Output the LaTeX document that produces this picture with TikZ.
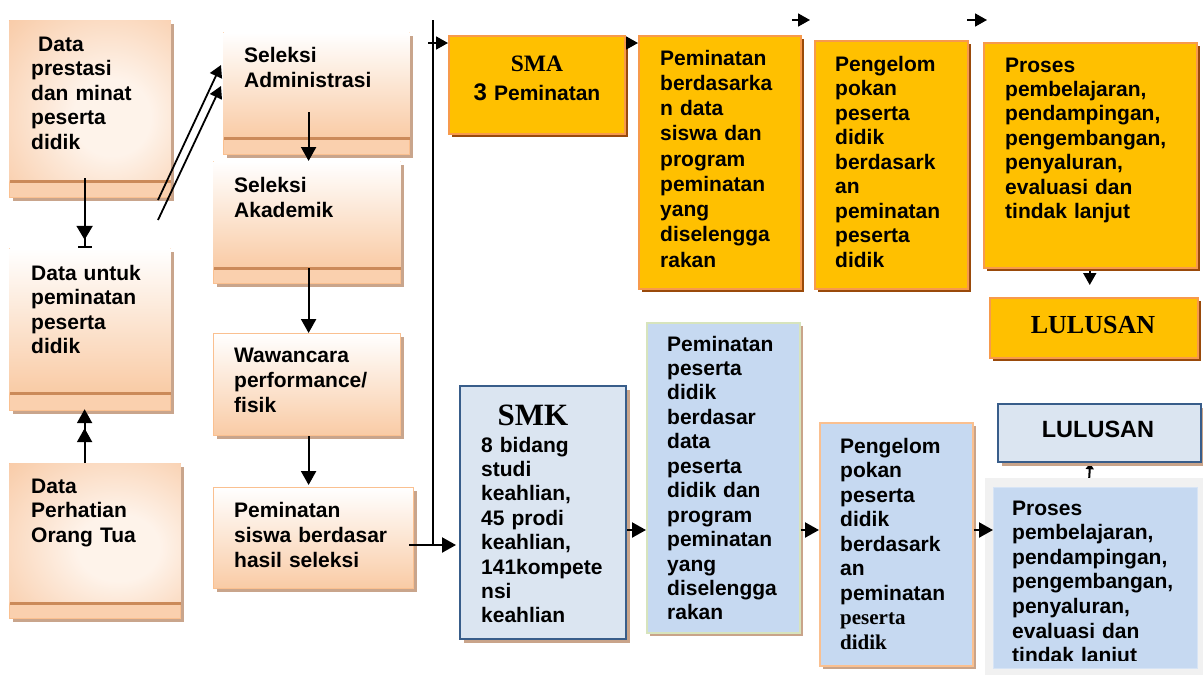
\documentclass[tikz,border=0pt]{standalone}
\usepackage{fontspec}
\setmainfont{Liberation Sans}
\newfontfamily\timesf{Liberation Serif}
\usetikzlibrary{arrows.meta,shadows,calc,backgrounds}
\definecolor{peachline}{HTML}{FAC090}
\definecolor{peachlow}{HTML}{F9CBA5}
\definecolor{peachband}{HTML}{FAD0AE}
\definecolor{peachout}{HTML}{F6B07C}
\definecolor{peachmid}{HTML}{F9CFAE}
\definecolor{peachin}{HTML}{FEF3EA}
\definecolor{bandline}{HTML}{CB8A59}
\definecolor{peachshadow}{HTML}{C9A58C}
\definecolor{gold}{HTML}{FFC000}
\definecolor{goldline}{HTML}{F79A4C}
\definecolor{goldshadow}{HTML}{9A4A0A}
\definecolor{blueA}{HTML}{DBE5F1}
\definecolor{blueB}{HTML}{C6D9F1}
\definecolor{navy}{HTML}{385D8A}
\definecolor{paleolive}{HTML}{D7E4BD}
\definecolor{blueshadow}{HTML}{C9A48A}
\definecolor{framegray}{HTML}{F1F1F1}
\pgfdeclareradialshading{peachrad}{\pgfpoint{8bp}{-6bp}}{%
  color(0bp)=(peachin); color(12bp)=(peachin); color(38bp)=(peachmid); color(62bp)=(peachout); color(80bp)=(peachout)}
\newcommand{\bandbox}[3]{%
  \shade[#3] ([shift={(0.6,0.6)}]#1.north west) rectangle ([shift={(-0.6,-#2)}]#1.south east);
  \draw[bandln] ([shift={(0.6,-#2)}]#1.south west) -- ([shift={(-0.6,-#2)}]#1.south east);}
\begin{document}
\begin{tikzpicture}[x=1pt,y=-1pt,
  box/.style={rectangle, inner sep=0pt, anchor=north west},
  peachbox/.style={box, fill=peachband, draw=peachline, line width=1.2pt,
    drop shadow={shadow xshift=3pt, shadow yshift=-3pt, fill=peachshadow, opacity=1}},
  peachgrad/.style={box, top color=white, bottom color=peachlow, draw=peachline, line width=1.2pt,
    drop shadow={shadow xshift=3pt, shadow yshift=-3pt, fill=peachshadow, opacity=1}},
  goldbox/.style={box, fill=gold, draw=goldline, line width=1.5pt,
    drop shadow={shadow xshift=3.5pt, shadow yshift=-3.5pt, fill=goldshadow, opacity=1}},
  navybox/.style={box, fill=blueA, draw=navy, line width=2.2pt,
    drop shadow={shadow xshift=3.5pt, shadow yshift=-3.5pt, fill=blueshadow, opacity=1}},
  lightbox/.style={box, fill=blueB, line width=1.8pt,
    drop shadow={shadow xshift=3.5pt, shadow yshift=-3.5pt, fill=blueshadow, opacity=1}},
  bandln/.style={draw=bandline, line width=2.8pt},
  txt/.style={anchor=base west, inner sep=0pt, text width=200pt, align=left,
    font=\bfseries\fontsize{21}{#1}\selectfont},
  txt/.default=24.5,
  ctxt/.style={anchor=base, inner sep=0pt, align=center},
  arr/.style={line width=2.2pt, -{Triangle[length=14pt,width=15pt]}},
  sarr/.style={line width=1.8pt, -{Triangle[length=12pt,width=13pt]}},
]
\useasboundingbox (0,0) rectangle (1203,675);

% ---------- left column ----------
\node[peachbox, minimum width=161pt, minimum height=177pt] (A) at (9,20) {};
\bandbox{A}{17}{shading=peachrad}
\node[txt] (tA) at (31,51) {\hspace*{7pt}Data\\prestasi\\dan minat\\peserta\\didik};

\node[peachbox, minimum width=161pt, minimum height=162pt] (B) at (9,248) {};
\bandbox{B}{18}{top color=white, bottom color=peachlow}
\node[txt] (tB) at (31,280) {Data untuk\\peminatan\\peserta\\didik};

\node[peachbox, minimum width=171pt, minimum height=155pt] (C) at (9,463) {};
\bandbox{C}{16}{shading=peachrad}
\node[txt] (tC) at (31,493) {Data\\Perhatian\\Orang Tua};

% ---------- middle column ----------
\node[peachbox, minimum width=186pt, minimum height=122pt] (SA) at (223,32) {};
\bandbox{SA}{17}{top color=white, bottom color=peachlow}
\node[txt=25] (tSA) at (244,62) {Seleksi\\Administrasi};

\node[peachbox, minimum width=187pt, minimum height=122pt] (SAk) at (213,161) {};
\bandbox{SAk}{16}{top color=white, bottom color=peachlow}
\node[txt=25] (tSAk) at (234,192) {Seleksi\\Akademik};

\node[peachgrad, minimum width=187pt, minimum height=102pt] (W) at (213,333) {};
\node[txt=25] (tW) at (234,362) {Wawancara\\performance/\\fisik};

\node[peachgrad, minimum width=200pt, minimum height=101pt] (P) at (213,487) {};
\node[txt=25] (tP) at (234,517) {Peminatan\\siswa berdasar\\hasil seleksi};

% ---------- SMA row ----------
\node[goldbox, minimum width=176pt, minimum height=98pt] (SMA) at (448,35) {};
\node[ctxt, text width=176pt, font=\bfseries\fontsize{21}{29}\selectfont] (tSMA) at (537,71)
  {{\timesf\fontsize{23.5}{29}\selectfont SMA}\\{\fontsize{24}{29}\selectfont 3} Peminatan};

\node[goldbox, minimum width=162pt, minimum height=253pt] (Pem1) at (638,35) {};
\node[txt=25.25] (tPem1) at (660,65) {Peminatan\\berdasarka\\n data\\siswa dan\\program\\peminatan\\yang\\diselengga\\rakan};

\node[goldbox, minimum width=153pt, minimum height=248pt] (Pem2) at (814,40) {};
\node[txt=24.5] (tPem2) at (835,71) {Pengelom\\pokan\\peserta\\didik\\berdasark\\an\\peminatan\\peserta\\didik};

\node[goldbox, minimum width=213pt, minimum height=225pt] (ProsesA) at (983,42) {};
\node[txt=24.4] (tProsesA) at (1005,72) {Proses\\pembelajaran,\\pendampingan,\\pengembangan,\\penyaluran,\\evaluasi dan\\tindak lanjut};

\node[goldbox, minimum width=208pt, minimum height=60pt] (LulA) at (989,297) {};
\node[ctxt, font=\timesf\bfseries\fontsize{26}{30}\selectfont] (tLulA) at (1093,333) {LULUSAN};

% ---------- SMK row ----------
\node[navybox, minimum width=166pt, minimum height=253pt] (SMK) at (459,385) {};
\node[ctxt, font=\timesf\bfseries\fontsize{31}{34}\selectfont] (tSMKh) at (533,425) {SMK};
\node[txt=24.4] (tSMK) at (481,452) {8 bidang\\studi\\keahlian,\\45 prodi\\keahlian,\\141kompete\\nsi\\keahlian};

\node[lightbox, draw=paleolive, minimum width=153pt, minimum height=310pt] (Pem1b) at (646,322) {};
\node[txt=24.45] (tPem1b) at (667,351) {Peminatan\\peserta\\didik\\berdasar\\data\\peserta\\didik dan\\program\\peminatan\\yang\\diselengga\\rakan};

\node[lightbox, draw=peachline, minimum width=153pt, minimum height=243pt] (Pem2b) at (819,422) {};
\node[txt=24.5] (tPem2b) at (840,453) {Pengelom\\pokan\\peserta\\didik\\berdasark\\an\\peminatan\\{\timesf peserta}\\{\timesf didik}};

\node[box, fill=framegray, minimum width=218pt, minimum height=197pt] (Frame) at (985,478) {};
\node[box, fill=blueB, draw=blueB!70!white, line width=0.8pt, minimum width=204pt, minimum height=181pt] (ProsesB) at (993,487) {};
\begin{scope}
  \clip (ProsesB.north west) rectangle ([yshift=8pt]ProsesB.south east);
  \node[txt=24.6] (tProsesB) at (1012,515) {Proses\\pembelajaran,\\pendampingan,\\pengembangan,\\penyaluran,\\evaluasi dan\\tindak lanjut};
\end{scope}

\node[navybox, minimum width=203pt, minimum height=58pt] (LulB) at (997,403) {};
\node[ctxt, font=\bfseries\fontsize{23.5}{28}\selectfont] (tLulB) at (1098,437) {LULUSAN};

% ---------- connectors ----------
\coordinate (vtop) at (433,20);
\coordinate (vj) at (433,545);
\coordinate (vsma) at (428,43);
\coordinate (hb) at (0,530);
\coordinate (d1) at (158,200);
\coordinate (d2) at (158,220);
\coordinate (f1) at (792,20);
\coordinate (f1e) at (810,20);
\coordinate (f2) at (967,20);
\coordinate (f2e) at (987,20);

\draw[line width=2.2pt, -{Triangle[length=14pt,width=16pt,sep=6pt]Bar[width=14pt]}]
  ([shift={(-5.5,-20)}]A.south) -- ([xshift=-5.5pt]B.north);
\draw[line width=2.2pt, -{Triangle[length=14pt,width=15pt,sep=5pt]Triangle[length=14pt,width=15pt]}]
  ([xshift=-10.5pt]C.north) -- ([shift={(-5.5,-2)}]B.south);
\draw[sarr] (d1) -- ([shift={(-2,33)}]SA.north west);
\draw[sarr] (d2) -- ([shift={(-2,54)}]SA.north west);

\draw[arr] ([shift={(-8,-43)}]SA.south) -- ([xshift=1.5pt]SAk.north);
\draw[arr] ([shift={(1.5,-16)}]SAk.south) -- ([xshift=1.5pt]W.north);
\draw[arr] ([xshift=1.5pt]W.south) -- ([shift={(-5,-2)}]P.north);

\draw[line width=2pt] (vtop) -- (vj);
\draw[arr] ($(P.east |- vj)+(-5,0)$) -- ($(SMK.west |- vj)+(-3,0)$);
\draw[sarr] (vsma) -- (SMA.west |- vsma);
\draw[sarr] (SMA.east |- vsma) -- (Pem1.west |- vsma);
\draw[sarr] (f1) -- (f1e);
\draw[sarr] (f2) -- (f2e);

\draw[arr] (SMK.east |- hb) -- (Pem1b.west |- hb);
\draw[arr] (Pem1b.east |- hb) -- (Pem2b.west |- hb);
\draw[arr] (Pem2b.east |- hb) -- (ProsesB.west |- hb);

\begin{pgfonlayer}{background}
  \draw[sarr, shorten >=12pt] ([xshift=-0.5pt]ProsesA.south) -- ([xshift=-0.5pt]ProsesA.south |- LulA.north);
  \draw[line width=2pt, -{Triangle[length=6pt,width=8pt]}] ([xshift=-5pt]Frame.north) -- ([xshift=-9.5pt]LulB.south);
\end{pgfonlayer}
\end{tikzpicture}
\end{document}
